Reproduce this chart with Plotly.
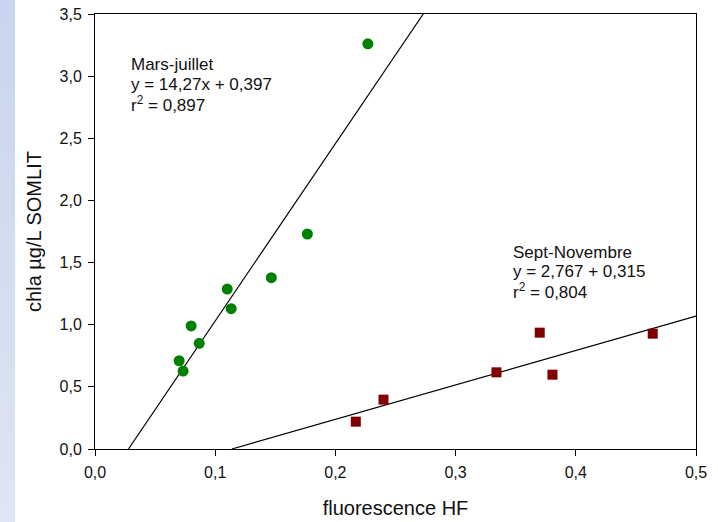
import plotly.graph_objects as go

# Mars-juillet samples
spring_x = [0.070, 0.0733, 0.080, 0.0867, 0.110, 0.1133, 0.1467, 0.1767, 0.227]
spring_y = [0.71, 0.627, 0.99, 0.85, 1.287, 1.129, 1.378, 1.73, 3.26]

# Sept-Novembre samples
autumn_x = [0.217, 0.240, 0.334, 0.370, 0.3806, 0.464]
autumn_y = [0.22, 0.397, 0.617, 0.936, 0.598, 0.928]

# regression coefficients (slope, offset)
spring_fit = (14.27, -0.397)
autumn_fit = (2.767, -0.315)

spring_label = ["Mars-juillet", "y = 14,27x + 0,397", "r<sup>2</sup> = 0,897"]
autumn_label = ["Sept-Novembre", "y = 2,767 + 0,315", "r<sup>2</sup> = 0,804"]

x_range = [0.0, 0.5]
y_range = [0.0, 3.5]
x_ticks = [0.0, 0.1, 0.2, 0.3, 0.4, 0.5]
y_ticks = [0.0, 0.5, 1.0, 1.5, 2.0, 2.5, 3.0, 3.5]

FONT = "Liberation Sans, Arial, sans-serif"
INK = "#111111"


def fit_segment(slope, offset):
    # endpoints of the fitted line inside the axes box
    xa = max(x_range[0], (y_range[0] - offset) / slope)
    xb = min(x_range[1], (y_range[1] - offset) / slope)
    return [xa, xb], [slope * xa + offset, slope * xb + offset]


fig = go.Figure()

for coef in (spring_fit, autumn_fit):
    lx, ly = fit_segment(*coef)
    fig.add_trace(go.Scatter(x=lx, y=ly, mode="lines",
                             line=dict(color="black", width=1.2), hoverinfo="skip"))

fig.add_trace(go.Scatter(x=spring_x, y=spring_y, mode="markers",
                         marker=dict(symbol="circle", size=11, color="#008000"),
                         name="Mars-juillet"))
fig.add_trace(go.Scatter(x=autumn_x, y=autumn_y, mode="markers",
                         marker=dict(symbol="square", size=10, color="#800000"),
                         name="Sept-Novembre"))

# pale blue strip along the left edge of the page
top_c = (200, 213, 238)
bot_c = (222, 229, 243)
n_bands = 24
page_top, page_bot = 1.033, -0.168
for i in range(n_bands):
    t = i / (n_bands - 1)
    c = tuple(round(top_c[k] + (bot_c[k] - top_c[k]) * t) for k in range(3))
    y1 = page_top - (page_top - page_bot) * i / n_bands
    y0 = page_top - (page_top - page_bot) * (i + 1) / n_bands
    fig.add_shape(type="rect", xref="paper", yref="paper",
                  x0=-0.16, x1=-0.133, y0=y0 - 0.002, y1=y1,
                  fillcolor="rgb(%d,%d,%d)" % c, line=dict(width=0), layer="below")

# equation blocks, one annotation per line for even spacing
def add_block(lines, x, y_top, step):
    for k, txt in enumerate(lines):
        fig.add_annotation(x=x, y=y_top - k * step, xref="x", yref="y",
                           xanchor="left", yanchor="middle", align="left",
                           showarrow=False, text=txt,
                           font=dict(family=FONT, size=17, color=INK))

add_block(spring_label, 0.0285, 3.097, 0.161)
add_block(autumn_label, 0.3458, 1.585, 0.155)

axis_common = dict(showline=True, linecolor="black", linewidth=1, mirror=True,
                   ticks="outside", ticklen=6, tickcolor="black", showgrid=False,
                   zeroline=False, tickformat=".1f", ticklabelstandoff=3,
                   automargin=False,
                   tickfont=dict(family=FONT, size=16, color=INK))

fig.update_layout(
    width=718, height=522,
    margin=dict(l=95, r=22, t=14, b=73),
    paper_bgcolor="white", plot_bgcolor="white",
    showlegend=False,
    separators=",.",
    xaxis=dict(range=x_range, tickvals=x_ticks,
               title=dict(text="fluorescence HF", standoff=20,
                          font=dict(family=FONT, size=20, color=INK)),
               **axis_common),
    yaxis=dict(range=y_range, tickvals=y_ticks,
               title=dict(text="chla µg/L SOMLIT", standoff=12,
                          font=dict(family=FONT, size=20, color=INK)),
               **axis_common),
)

fig.write_html("out.html")
